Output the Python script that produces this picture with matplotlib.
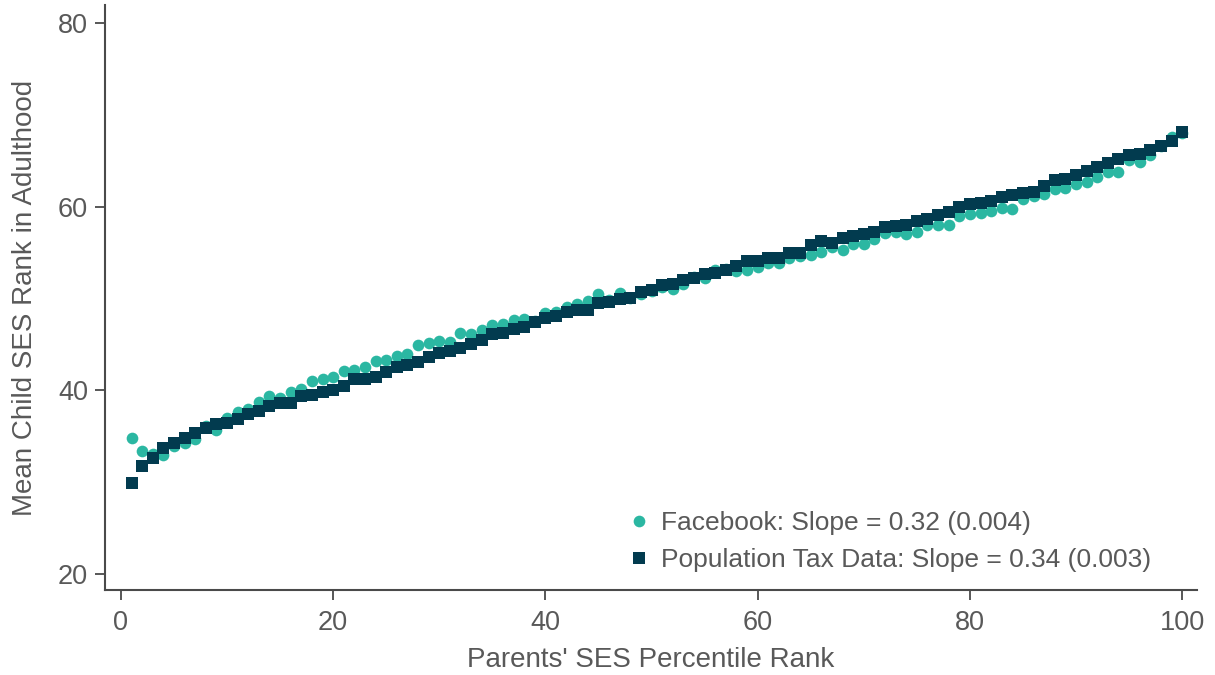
import numpy as np
import matplotlib
matplotlib.use("Agg")
import matplotlib.pyplot as plt

plt.rcParams['font.family'] = ['Liberation Sans', 'DejaVu Sans']

# parent percentile rank 1..100
parent_rank = np.arange(1, 101)

# mean child rank, Facebook sample
fb_rank = [
    34.85, 33.35, 33.1, 33.0, 33.9, 34.3, 34.7, 36.1, 35.7, 37.0,
    37.6, 38.0, 38.7, 39.35, 39.2, 39.85, 40.2, 41.0, 41.2, 41.5,
    42.1, 42.2, 42.6, 43.2, 43.3, 43.75, 44.0, 45.0, 45.2, 45.4,
    45.3, 46.3, 46.1, 46.6, 47.1, 47.2, 47.7, 47.8, 47.6, 48.4,
    48.6, 49.05, 49.4, 49.7, 50.5, 49.9, 50.6, 50.1, 50.5, 50.8,
    51.3, 51.1, 51.6, 52.4, 52.2, 53.15, 53.2, 53.0, 53.15, 53.5,
    53.9, 53.85, 54.4, 54.7, 54.8, 55.1, 55.6, 55.3, 56.0, 55.95,
    56.5, 57.1, 57.3, 57.0, 57.3, 58.0, 58.0, 58.0, 59.0, 59.2,
    59.3, 59.6, 59.85, 59.8, 60.85, 61.2, 61.4, 61.9, 62.1, 62.45,
    62.7, 63.3, 63.8, 63.85, 65.1, 64.9, 65.6, 66.6, 67.6, 68.1,
]

# mean child rank, population tax data
tax_rank = [
    29.9, 31.8, 32.6, 33.7, 34.25, 34.8, 35.4, 35.9, 36.3, 36.4,
    36.9, 37.45, 37.8, 38.25, 38.6, 38.6, 39.4, 39.5, 39.85, 40.0,
    40.5, 41.2, 41.2, 41.5, 42.0, 42.55, 42.8, 43.1, 43.6, 44.1,
    44.25, 44.6, 45.05, 45.5, 46.1, 46.3, 46.7, 46.95, 47.5, 47.9,
    48.1, 48.55, 48.8, 48.8, 49.5, 49.6, 50.0, 50.1, 50.7, 50.95,
    51.5, 51.6, 52.0, 52.2, 52.7, 52.8, 53.1, 53.6, 54.05, 54.05,
    54.4, 54.4, 55.0, 55.0, 55.8, 56.25, 56.1, 56.65, 56.85, 57.05,
    57.3, 57.85, 57.9, 58.0, 58.5, 58.65, 59.1, 59.4, 60.0, 60.3,
    60.4, 60.6, 61.1, 61.25, 61.55, 61.6, 62.25, 62.9, 63.0, 63.5,
    63.9, 64.4, 64.8, 65.2, 65.7, 65.8, 66.2, 66.6, 67.2, 68.2,
]

labels = ['Facebook: Slope = 0.32 (0.004)',
          'Population Tax Data: Slope = 0.34 (0.003)']

teal = '#2bb7a2'
navy = '#023b4f'
grey = '#595959'

fig = plt.figure(figsize=(12.15, 6.75), dpi=100)
ax = fig.add_axes([0.0864, 0.1259, 0.8988, 0.8667])

ax.plot(parent_rank, fb_rank, 'o', color=teal, markersize=8.4,
        markeredgewidth=0, label=labels[0])
ax.plot(parent_rank, tax_rank, 's', color=navy, markersize=8.0,
        markeredgewidth=0, label=labels[1])

ax.set_xlim(-1.5, 101.4)
ax.set_ylim(18.25, 82.0)
ax.set_xticks([0, 20, 40, 60, 80, 100])
ax.set_yticks([20, 40, 60, 80])

for side in ['top', 'right']:
    ax.spines[side].set_visible(False)
for side in ['left', 'bottom']:
    ax.spines[side].set_color('#4a4a4a')
    ax.spines[side].set_linewidth(1.5)

ax.tick_params(direction='out', length=7.2, width=1.3, color='#4a4a4a',
               labelcolor=grey, labelsize=19.5)
ax.tick_params(axis='x', pad=7)
ax.tick_params(axis='y', pad=5)

ax.set_xlabel("Parents' SES Percentile Rank", fontsize=20, color=grey,
              labelpad=8)
ax.set_ylabel("Mean Child SES Rank in Adulthood", fontsize=20, color=grey,
              labelpad=14)

leg = ax.legend(loc='lower right', bbox_to_anchor=(0.958, 0.03), frameon=False,
                fontsize=19, handletextpad=0.45, labelspacing=0.5,
                handlelength=0.8, borderpad=0, borderaxespad=0)
for t in leg.get_texts():
    t.set_color(grey)

fig.savefig('out.png', dpi=100)
